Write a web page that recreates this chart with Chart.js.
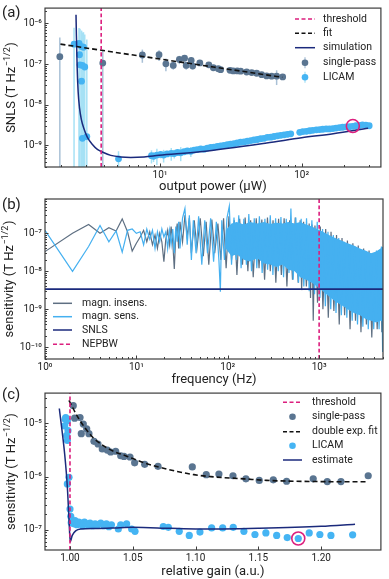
<!DOCTYPE html>
<html>
<head>
<meta charset="utf-8">
<script src="https://cdn.jsdelivr.net/npm/chart.js@4.4.1/dist/chart.umd.min.js"></script>
<style>
  html, body { margin: 0; padding: 0; background: #fff; }
  #wrap { position: relative; width: 389px; height: 579px; overflow: hidden; }
  canvas { position: absolute; left: 0; }
</style>
</head>
<body>
<div id="wrap">
  <canvas id="chartA" width="389" height="196" style="top:0"></canvas>
  <canvas id="chartB" width="389" height="200" style="top:190px"></canvas>
  <canvas id="chartC" width="389" height="194" style="top:385px"></canvas>
</div>
<script>
const FONT = "Roboto, 'Liberation Sans', sans-serif";
const INK = '#222';
const FRAME = '#3c3c3c';
const C_SINGLE = '#5a7591';
const C_SINGLE_ERR = '#a9c0d6';
const C_LICAM = '#45b4f3';
const C_LICAM_ERR = '#a6e1f5';
const C_NAVY = '#1b2a7c';
const C_MAGENTA = '#dc1f7e';
const C_INSENS = '#5e6f82';
const C_SENS = '#45b0f0';

// ---- panel (a): SNLS vs output power ----
const aXRange = [1.54, 363];
const aYRange = [2.95e-10, 2.39e-6];
const aXDecades = [1, 10, 100];
const aYDecades = [1e-10, 1e-9, 1e-8, 1e-7, 1e-6];
const aThreshold = 3.84;
const aFitX = [1.98, 73];
const aFitY = [3.1e-7, 4.75e-8];
const aSimX = [2.55, 2.567, 2.60, 2.64, 2.70, 2.78, 2.91, 3.07, 3.33, 3.61, 3.91, 4.49, 5.28, 6.21, 7.71, 9.84, 19.1, 56.6, 100, 167, 295];
const aSimY = [1.63e-6, 4.9e-7, 7.7e-8, 2.1e-8, 8.4e-9, 4.4e-9, 2.5e-9, 1.58e-9, 1.06e-9, 8.0e-10, 6.9e-10, 5.7e-10, 5.2e-10, 5.06e-10, 5.2e-10, 5.7e-10, 7.0e-10, 1.15e-9, 1.55e-9, 1.95e-9, 2.65e-9];
const aSingleX = [1.96, 3.94, 7.5, 9.84, 11.0, 12.4, 13.7, 14.9, 15.3, 16.6, 17.0, 19.1, 22.1, 23.8, 25.8, 26.8, 31.2, 32.9, 35.1, 37.1, 40.9, 44.4, 48.1, 52.2, 56.6, 61.4, 66.6, 73.5];
const aSingleY = [1.53e-7, 1.06e-7, 1.68e-7, 1.70e-7, 1.02e-7, 9.3e-8, 1.30e-7, 1.40e-7, 9.3e-8, 1.23e-7, 8.96e-8, 1.07e-7, 9.6e-8, 8.15e-8, 7.7e-8, 7.3e-8, 7.05e-8, 6.8e-8, 6.8e-8, 6.7e-8, 6.4e-8, 6.2e-8, 5.97e-8, 5.5e-8, 5.14e-8, 5.06e-8, 5.06e-8, 4.86e-8];
const aSingleErr = [3.0e-7, 1.1e-7, 6e-8, 5e-8, 3.5e-8, 2e-8, 3e-8, 2.5e-8, 2e-8, 2.5e-8, 1.5e-8, 1.5e-8, 1.2e-8, 1e-8, 1e-8, 8e-9, 6e-9, 6e-9, 5e-9, 5e-9, 6e-9, 5e-9, 5e-9, 6e-9, 5e-9, 8e-9, 2e-8, 5e-9];
const aLicamX = [2.47, 2.68, 2.79, 2.88, 2.70, 2.72, 2.83, 2.94, 2.79, 2.83, 3.04, 5.09,
  8.7, 9.0, 9.5, 10.1, 10.6, 11.2, 12.0, 12.6, 13.3, 14.0, 14.8, 15.6, 16.5, 17.4, 18.3, 19.4, 20.5, 21.6, 22.8, 24.0,
  25.4, 26.8, 28.3, 29.9, 31.5, 33.3, 35.1, 37.1, 39.2, 41.4, 43.7, 46.1, 48.7, 51.4, 54.3, 57.3, 60.5, 63.9, 67.5, 71.2,
  75.2, 79.4, 83.8,
  97, 102, 108, 114, 120, 127, 134, 141, 149, 157, 166, 175, 185, 195, 206, 217, 229, 242, 255, 269, 284, 300];
const aLicamY = [3.1e-7, 3.25e-7, 2.7e-7, 2.6e-7, 1.7e-7, 9.6e-8, 9.3e-8, 8.5e-8, 3.8e-8, 1.5e-9, 1.65e-9, 4.7e-10,
  5.6e-10, 5.4e-10, 5.8e-10, 6.0e-10, 5.8e-10, 6.2e-10, 6.4e-10, 6.3e-10, 6.7e-10, 6.6e-10, 7.0e-10, 7.3e-10, 7.2e-10, 7.7e-10, 7.9e-10, 8.2e-10, 8.1e-10, 8.6e-10, 9.0e-10, 9.1e-10,
  9.5e-10, 9.8e-10, 1.0e-9, 1.04e-9, 1.07e-9, 1.1e-9, 1.15e-9, 1.2e-9, 1.22e-9, 1.27e-9, 1.32e-9, 1.36e-9, 1.4e-9, 1.46e-9, 1.5e-9, 1.58e-9, 1.6e-9, 1.66e-9, 1.72e-9, 1.77e-9,
  1.82e-9, 1.88e-9, 1.93e-9,
  2.1e-9, 2.2e-9, 2.22e-9, 2.3e-9, 2.35e-9, 2.42e-9, 2.45e-9, 2.5e-9, 2.55e-9, 2.55e-9, 2.6e-9, 2.68e-9, 2.75e-9, 2.8e-9, 2.87e-9, 2.9e-9, 2.95e-9, 3.05e-9, 3.1e-9, 3.2e-9, 3.15e-9, 3.05e-9];
const aLicamErr = [4.7e-7, 4.5e-7, 4.0e-7, 3.5e-7, 5.5e-7, 6.5e-7, 5.0e-7, 4.5e-7, 6.0e-7, 5.0e-7, 4.0e-7, 2.5e-10,
  2.0e-10, 1.5e-10, 2.5e-10, 1.2e-10, 2.0e-10, 1.0e-10, 2.2e-10, 1.5e-10, 1.0e-10, 2.5e-10, 1.2e-10, 1.0e-10, 2.0e-10, 0.8e-10, 1.0e-10, 0, 0, 0, 0, 0,
  0, 0, 0, 0, 0, 0, 0, 0, 0, 0, 0, 0, 0, 0, 0, 0, 0, 0, 0, 0,
  0, 0, 0,
  0, 0, 0, 0, 0, 0, 0, 0, 0, 0, 0, 0, 0, 0, 0, 0, 0, 0, 0, 0, 0, 0];
const aMarked = [230, 3.0e-9];

// ---- panel (b): spectra ----
const bXRange = [1, 5000];
const bYRange = [4.92e-11, 8.0e-7];
const bXDecades = [1, 10, 100, 1000];
const bYDecades = [1e-11, 1e-10, 1e-9, 1e-8, 1e-7];
const bNepbw = 1000;
const bSnls = 3.4e-9;
const bInsF = [1, 2, 3, 4, 5, 6, 7, 8, 9, 10, 11, 12, 13, 14, 15, 16, 17, 18, 19, 20, 21, 22, 23, 24, 25, 26, 27, 28, 29, 30,
  32, 34, 36, 38, 40, 43, 46, 50, 54, 58, 62, 67, 72, 78, 84, 90, 96, 103, 110, 118, 126, 135, 145, 155, 166, 178, 190,
  205, 220, 236, 253, 272, 292, 313, 336, 360, 386, 414, 444, 476, 511, 548, 590, 620, 643, 676, 725, 778, 805, 834, 862,
  900, 960, 1030, 1100, 1180, 1260, 1350, 1450, 1550, 1660, 1780, 1900, 2040, 2180, 2340, 2500, 2680, 2870, 3070, 3290,
  3520, 3770, 4030, 4320, 4620, 4850, 5000];
const bInsV = [3.3e-8, 1.0e-7, 1.7e-7, 1.0e-7, 1.4e-7, 1.15e-7, 2.4e-7, 1.1e-7, 3.4e-8, 5.5e-8, 8e-8, 1.2e-7, 6e-8, 1.1e-7, 5e-8, 9e-8, 4e-8, 1.0e-7, 6e-8, 1.8e-8, 7e-8, 1.2e-7, 5e-8, 1.5e-7, 6e-8, 1.15e-8, 9e-8, 1.8e-7, 4e-8, 2.0e-7,
  6e-8, 3e-7, 8e-8, 2.5e-7, 3e-8, 2.2e-7, 4e-8, 2.5e-7, 2.5e-8, 2.0e-7, 1.5e-8, 2.3e-7, 3e-8, 1.8e-7, 2e-8, 2.5e-7, 1.2e-8, 2.8e-7, 2e-8, 2.2e-7, 8e-9, 2.4e-7, 1.5e-8, 2.6e-7, 1.0e-8, 2.2e-7, 7e-9,
  2.5e-7, 1.2e-8, 2.3e-7, 6e-9, 2.6e-7, 1e-8, 2.2e-7, 5e-9, 2.4e-7, 8e-9, 2.5e-7, 4e-9, 2.2e-7, 6e-9, 2.6e-7, 5e-9, 2.2e-7, 3.2e-9, 2.0e-7, 4e-9, 1.8e-7, 2e-9, 1.7e-7, 5e-10,
  1.6e-7, 1.5e-9, 1.5e-7, 1e-9, 1.3e-7, 6e-10, 1.1e-7, 9e-10, 9e-8, 4e-10, 7.5e-8, 7e-10, 6.5e-8, 3e-10, 5.5e-8, 5e-10, 4.8e-8, 2.5e-10, 4e-8, 4e-10,
  3.5e-8, 1.8e-10, 3e-8, 3e-10, 3.5e-8, 2.5e-10, 3.5e-8];
const bSenF = [1, 2, 3, 4, 5, 6, 7, 8, 9, 10, 11, 12, 13, 14, 15, 16, 17, 18, 19, 20, 21, 22, 23, 24, 25, 26, 27, 28, 29, 30,
  32, 34, 36, 38, 40, 42, 45, 48, 52, 56, 60, 65, 70, 75, 80, 83, 86, 92, 98, 104, 110, 117, 124, 132, 140, 150, 160, 170,
  182, 195, 208, 222, 238, 255, 273, 292, 312, 334, 357, 382, 408, 437, 468, 491, 520, 556, 595, 636, 680, 728, 779, 833,
  891, 953, 1020, 1090, 1170, 1250, 1340, 1430, 1530, 1640, 1750, 1880, 2010, 2150, 2300, 2460, 2630, 2820, 3010, 3230,
  3450, 3700, 3960, 4240, 4530, 4800, 4950, 5000];
const bSenV = [1.2e-7, 1.0e-8, 4.5e-8, 1.6e-7, 6.0e-8, 1.15e-7, 3.2e-8, 1.2e-7, 1.3e-7, 1.0e-7, 1.1e-7, 5e-8, 1.3e-7, 7e-8, 1.2e-7, 4e-8, 1.1e-7, 6e-8, 1.3e-7, 8e-8, 1.1e-7, 4e-8, 1.2e-7, 5e-8, 1.3e-7, 3e-8, 1.5e-7, 6e-8, 2e-7, 4e-8,
  2.5e-7, 4.5e-7, 5e-8, 3e-7, 2e-8, 2.2e-7, 3e-8, 2.8e-7, 1.5e-8, 2.2e-7, 3e-8, 2.5e-7, 1.8e-8, 2.0e-7, 2e-8, 2.9e-9, 2.2e-7, 2e-8, 2.5e-7, 5.2e-7, 1.5e-8, 2.6e-7, 2e-8, 3e-7, 1.2e-8, 2.4e-7, 1.5e-8, 3.2e-7,
  1e-8, 2.5e-7, 1.2e-8, 2.8e-7, 9e-9, 2.4e-7, 1.1e-8, 3e-7, 8e-9, 2.5e-7, 1e-8, 2.7e-7, 7e-9, 2.4e-7, 9e-9, 4.5e-7, 6e-9, 2.6e-7, 5e-9, 2.4e-7, 4e-9, 2.5e-7, 3e-9, 2.2e-7,
  2.5e-9, 2.0e-7, 2e-9, 1.3e-7, 1.2e-9, 1.1e-7, 1e-9, 9e-8, 8e-10, 7.5e-8, 7e-10, 6e-8, 6e-10, 5e-8, 5e-10, 4.5e-8, 4e-10, 3.8e-8, 3.5e-10, 3.3e-8,
  3e-10, 3e-8, 3e-10, 3.5e-8, 3e-10, 4.5e-8, 7.5e-11, 4.2e-8];
const bBandF = [95, 110, 125, 150, 175, 210, 250, 290, 340, 400, 460, 540, 620, 720, 830, 950, 1100, 1280, 1500, 1750, 2050, 2400, 2800, 3250, 3700, 4200, 4700, 5000];
const bBandHi = [1.2e-7, 1.8e-7, 2.0e-7, 1.7e-7, 2.0e-7, 1.8e-7, 2.0e-7, 1.75e-7, 1.9e-7, 1.8e-7, 2.0e-7, 1.8e-7, 2.0e-7, 1.7e-7, 1.5e-7, 1.3e-7, 1.1e-7, 9e-8, 7.5e-8, 6.5e-8, 5.5e-8, 4.8e-8, 4e-8, 3.5e-8, 3.0e-8, 3.3e-8, 4e-8, 4.5e-8];
const bBandLo = [4e-8, 2.5e-8, 2.8e-8, 2.0e-8, 1.8e-8, 2.2e-8, 1.6e-8, 1.5e-8, 1.3e-8, 1.5e-8, 1.1e-8, 1.0e-8, 7e-9, 6e-9, 5e-9, 4e-9, 3e-9, 2.2e-9, 1.6e-9, 1.3e-9, 1e-9, 8e-10, 7e-10, 5.5e-10, 5e-10, 4.5e-10, 5e-10, 4.7e-10];

// ---- panel (c): sensitivity vs relative gain ----
const cXRange = [0.9801, 1.2476];
const cYRange = [4.2e-8, 3.7e-5];
const cXTicks = [1.00, 1.05, 1.10, 1.15, 1.20];
const cYDecades = [1e-8, 1e-7, 1e-6, 1e-5];
const cThreshold = 1.0;
const cSingleX = [1.0026, 1.0037, 1.0080, 1.0090, 1.0106, 1.0133, 1.0151, 1.0191, 1.0223, 1.0257, 1.0297, 1.0324, 1.0364, 1.0404, 1.0430, 1.0478, 1.0515, 1.0595, 1.0701, 1.0974, 1.1085, 1.1186, 1.1298, 1.1401, 1.1507, 1.1619, 1.1725, 1.1937, 1.2049, 1.2158, 1.2375];
const cSingleY = [2.15e-5, 1.25e-5, 1.29e-5, 6.4e-6, 9.7e-6, 7.9e-6, 6.4e-6, 4.6e-6, 4.1e-6, 3.3e-6, 3.15e-6, 2.9e-6, 3.0e-6, 2.47e-6, 2.4e-6, 2.34e-6, 1.82e-6, 1.7e-6, 1.56e-6, 1.52e-6, 1.09e-6, 1.12e-6, 1.04e-6, 9.1e-7, 8.5e-7, 8.7e-7, 8.2e-7, 9.1e-7, 8.1e-7, 8.1e-7, 1.04e-6];
const cFitX = [0.9992, 1.0058, 1.0125, 1.0191, 1.0324, 1.0456, 1.0589, 1.0722, 1.0854, 1.0987, 1.112, 1.1385, 1.1566, 1.1964, 1.2375];
const cFitY = [2.7e-5, 1.37e-5, 7.9e-6, 5.2e-6, 3.18e-6, 2.4e-6, 1.82e-6, 1.48e-6, 1.25e-6, 1.09e-6, 1.0e-6, 9.1e-7, 8.5e-7, 8.1e-7, 8.0e-7];
const cEstX = [0.9915, 0.9958, 0.9979, 0.9992, 1.0002, 1.0018, 1.0045, 1.0085, 1.02, 1.04, 1.05, 1.08, 1.10, 1.15, 1.20, 1.227];
const cEstY = [1.9e-5, 2.6e-6, 6.4e-7, 1.6e-7, 6.0e-8, 7.9e-8, 9.6e-8, 1.04e-7, 1.06e-7, 1.1e-7, 1.12e-7, 1.07e-7, 1.04e-7, 1.08e-7, 1.17e-7, 1.28e-7];
const cLicamX = [0.9966, 0.9979, 0.9958, 0.9984, 0.9974, 0.9979, 0.9962, 0.9979, 0.9992, 1.0000, 1.0006, 1.0010,
  1.0015, 1.0030, 1.0040, 1.0055, 1.0070, 1.0085, 1.0100, 1.0115, 1.0130, 1.0145, 1.0160, 1.0180, 1.0200, 1.0220, 1.0245, 1.0270, 1.0290, 1.0310, 1.0330,
  1.0385, 1.0404, 1.0451, 1.0491, 1.0518, 1.0743, 1.0783, 1.0870, 1.0950, 1.1035, 1.1128, 1.1216, 1.1300, 1.1385, 1.1473, 1.1560, 1.1646, 1.1730, 1.1818, 1.1905, 1.1990, 1.2078, 1.2251];
const cLicamY = [1.29e-5, 1.11e-5, 9e-6, 7.3e-6, 5.95e-6, 4.8e-6, 1.2e-5, 7.3e-7, 9.7e-7, 2.47e-7, 1.8e-7, 1.37e-7,
  1.45e-7, 1.3e-7, 1.5e-7, 1.25e-7, 1.4e-7, 1.35e-7, 1.2e-7, 1.4e-7, 1.3e-7, 1.25e-7, 1.35e-7, 1.2e-7, 1.3e-7, 1.25e-7, 1.35e-7, 1.2e-7, 1.3e-7, 1.15e-7, 1.25e-7,
  1.04e-7, 1.25e-7, 1.3e-7, 1.04e-7, 9.4e-8, 1.16e-7, 1.12e-7, 9.4e-8, 7.9e-8, 9.1e-8, 1.09e-7, 1.09e-7, 1.12e-7, 9.4e-8, 8.2e-8, 8.8e-8, 7.9e-8, 7.2e-8, 6.9e-8, 8.8e-8, 8.2e-8, 7.9e-8, 8.1e-8];
const cMarked = [1.1818, 6.9e-8];

// ---- helpers ----
const SUP = { '-': '\u207B', '0': '\u2070', '1': '\u00B9', '2': '\u00B2', '3': '\u00B3', '4': '\u2074', '5': '\u2075', '6': '\u2076', '7': '\u2077', '8': '\u2078', '9': '\u2079' };

function powLabel(v) {
  const e = Math.round(Math.log10(v));
  return '10' + String(e).split('').map(c => SUP[c]).join('');
}

function pts(xs, ys) {
  return xs.map((x, i) => ({ x: x, y: ys[i] }));
}

function withMinor(decades, min, max) {
  const out = [];
  decades.forEach(d => {
    for (let k = 1; k < 10; k++) {
      const v = d * k;
      if (v >= min && v <= max) out.push({ value: v, major: k === 1 });
    }
  });
  return out;
}

function logAxis(range, decades, pos) {
  return {
    type: 'logarithmic', position: pos, min: range[0], max: range[1],
    afterBuildTicks: s => { s.ticks = withMinor(decades, range[0], range[1]); },
    ticks: {
      autoSkip: false, maxRotation: 0, padding: pos === 'left' ? 3 : 2, color: INK,
      font: { family: FONT, size: 10 },
      callback: (v, i, t) => t[i].major ? powLabel(v) : ''
    },
    grid: { display: false, drawTicks: false },
    border: { display: false }
  };
}

function lineSet(data, color, width, order, dash) {
  return { data, showLine: true, borderColor: color, borderWidth: width, borderDash: dash || [],
    pointRadius: 0, pointHoverRadius: 0, fill: false, order, cubicInterpolationMode: 'monotone' };
}

function rawLine(data, color, width, order) {
  // straight segments, for the noisy spectra
  return Object.assign(lineSet(data, color, width, order), { cubicInterpolationMode: 'default' });
}

function dotSet(data, color, radius, order) {
  return { data, showLine: false, pointRadius: radius, pointHoverRadius: radius,
    pointBackgroundColor: color, pointBorderWidth: 0, order };
}

function ringSet(point, order) {
  return { data: [{ x: point[0], y: point[1] }], showLine: false, pointRadius: 6.5, pointHoverRadius: 6.5,
    pointBackgroundColor: 'rgba(0,0,0,0)', pointBorderColor: C_MAGENTA, pointBorderWidth: 1.6, order };
}

function seg(ctx, x0, y0, x1, y1) {
  ctx.beginPath(); ctx.moveTo(x0, y0); ctx.lineTo(x1, y1); ctx.stroke();
}

function drawYTitle(ctx, cx, cy, base, sup, tail) {
  ctx.save();
  ctx.translate(cx, cy);
  ctx.rotate(-Math.PI / 2);
  const big = `13px ${FONT}`, small = `9px ${FONT}`;
  ctx.font = big;
  const w1 = ctx.measureText(base).width, w3 = ctx.measureText(tail).width;
  ctx.font = small;
  const w2 = ctx.measureText(sup).width;
  const x0 = -(w1 + w2 + w3 + 1) / 2;
  ctx.textBaseline = 'middle';
  ctx.fillStyle = INK;
  ctx.font = big; ctx.fillText(base, x0, 0);
  ctx.font = small; ctx.fillText(sup, x0 + w1 + 0.5, -4.5);
  ctx.font = big; ctx.fillText(tail, x0 + w1 + w2 + 1, 0);
  ctx.restore();
}

function drawLegend(ctx, lg) {
  ctx.save();
  ctx.textBaseline = 'middle';
  lg.items.forEach((it, i) => {
    const yy = lg.rows[i];
    if (it.kind === 'dot') {
      const cx = (lg.x0 + lg.x1) / 2;
      if (it.bar) { ctx.strokeStyle = it.bar; ctx.lineWidth = 1.3; seg(ctx, cx, yy - 5.5, cx, yy + 5.5); }
      ctx.fillStyle = it.color;
      ctx.beginPath(); ctx.arc(cx, yy, 3.3, 0, Math.PI * 2); ctx.fill();
    } else {
      ctx.strokeStyle = it.color;
      ctx.lineWidth = it.width || 1.5;
      ctx.setLineDash(it.kind === 'dash' ? [4, 2.5] : []);
      seg(ctx, lg.x0, yy, lg.x1, yy);
      ctx.setLineDash([]);
    }
    ctx.fillStyle = INK;
    ctx.font = `10.5px ${FONT}`;
    ctx.fillText(it.text, lg.tx, yy);
  });
  ctx.restore();
}

function decoPlugin(p) {
  return {
    id: 'deco',
    beforeDatasetsDraw(chart) {
      const { ctx, chartArea: a, scales: { x, y } } = chart;
      ctx.save();
      ctx.beginPath(); ctx.rect(a.left, a.top, a.right - a.left, a.bottom - a.top); ctx.clip();
      (p.errorBars || []).forEach(eb => {
        ctx.strokeStyle = eb.color;
        ctx.lineWidth = 1.5;
        eb.xs.forEach((xv, i) => {
          const s = eb.err[i];
          if (!s) return;
          const yv = eb.ys[i];
          const px = x.getPixelForValue(xv);
          const top = y.getPixelForValue(yv + s);
          const bot = yv - s > 0 ? y.getPixelForValue(yv - s) : a.bottom;
          seg(ctx, px, top, px, bot);
        });
      });
      ctx.restore();
    },
    afterDatasetsDraw(chart) {
      const { ctx, chartArea: a, scales: { x, y } } = chart;
      ctx.save();
      ctx.strokeStyle = FRAME;
      ctx.lineWidth = 1;
      x.ticks.forEach(t => {
        const px = Math.round(x.getPixelForValue(t.value)) + 0.5;
        seg(ctx, px, a.bottom, px, a.bottom - (t.major ? 3.5 : 2));
      });
      y.ticks.forEach(t => {
        const py = Math.round(y.getPixelForValue(t.value)) + 0.5;
        seg(ctx, a.left, py, a.left + (t.major ? 3.5 : 2), py);
      });
      ctx.lineWidth = 1.2;
      ctx.strokeRect(a.left, a.top, a.right - a.left, a.bottom - a.top);
      ctx.fillStyle = INK;
      ctx.textAlign = 'center';
      ctx.textBaseline = 'middle';
      ctx.font = `13px ${FONT}`;
      ctx.fillText(p.xTitle, (a.left + a.right) / 2, p.xTitleY);
      ctx.textAlign = 'left';
      ctx.font = `15px ${FONT}`;
      ctx.fillText(p.label, 2, p.labelY);
      ctx.restore();
      drawYTitle(ctx, p.yTitleX, (a.top + a.bottom) / 2, p.yTitle, '\u22121/2', ')');
      drawLegend(ctx, p.legend);
    }
  };
}

function makePanel(id, p) {
  const canvas = document.getElementById(id);
  const H = canvas.height;
  p.x.afterFit = s => { s.height = H - p.bottom; s.paddingLeft = 0; s.paddingRight = 0; };
  p.y.afterFit = s => { s.width = 45; s.paddingTop = 0; s.paddingBottom = 0; };
  return new Chart(canvas, {
    type: 'line',
    data: { datasets: p.datasets },
    options: {
      responsive: false, animation: false, events: [],
      layout: { padding: { left: 0, right: p.padRight, top: p.padTop, bottom: 0 } },
      scales: { x: p.x, y: p.y },
      plugins: { legend: { display: false }, tooltip: { enabled: false } }
    },
    plugins: [decoPlugin(p)]
  });
}

// ---- panel (a) ----
makePanel('chartA', {
  padTop: 5, padRight: 8, bottom: 167,
  x: logAxis(aXRange, aXDecades, 'bottom'),
  y: logAxis(aYRange, aYDecades, 'left'),
  datasets: [
    ringSet(aMarked, 0),
    lineSet([{ x: aThreshold, y: aYRange[0] }, { x: aThreshold, y: aYRange[1] }], C_MAGENTA, 1.6, 1, [4, 2.5]),
    lineSet(pts(aFitX, aFitY), '#111', 1.6, 2, [5, 3]),
    lineSet(pts(aSimX, aSimY), C_NAVY, 1.5, 3),
    dotSet(pts(aSingleX, aSingleY), C_SINGLE, 3.4, 5),
    dotSet(pts(aLicamX, aLicamY), C_LICAM, 3.4, 6)
  ],
  errorBars: [
    { xs: aLicamX, ys: aLicamY, err: aLicamErr, color: C_LICAM_ERR },
    { xs: aSingleX, ys: aSingleY, err: aSingleErr, color: C_SINGLE_ERR }
  ],
  xTitle: 'output power (\u03BCW)', xTitleY: 187,
  yTitle: 'SNLS (T Hz', yTitleX: 12,
  label: '(a)', labelY: 13.5,
  legend: {
    x0: 295, x1: 315, tx: 323, rows: [19, 33.3, 47.7, 62.7, 77.3],
    items: [
      { kind: 'dash', color: C_MAGENTA, text: 'threshold' },
      { kind: 'dash', color: '#111', text: 'fit' },
      { kind: 'line', color: C_NAVY, text: 'simulation' },
      { kind: 'dot', color: C_SINGLE, bar: C_SINGLE_ERR, text: 'single-pass' },
      { kind: 'dot', color: C_LICAM, bar: C_LICAM_ERR, text: 'LICAM' }
    ]
  }
});

// ---- panel (b) ----
const bandLower = rawLine(pts(bBandF, bBandLo), C_SENS, 0, 4);
bandLower.fill = '-1';
bandLower.backgroundColor = C_SENS;

makePanel('chartB', {
  padTop: 9, padRight: 6, bottom: 169,
  x: logAxis(bXRange, bXDecades, 'bottom'),
  y: logAxis(bYRange, bYDecades, 'left'),
  datasets: [
    lineSet([{ x: bNepbw, y: bYRange[0] }, { x: bNepbw, y: bYRange[1] }], C_MAGENTA, 1.6, 0, [4, 2.5]),
    lineSet([{ x: bXRange[0], y: bSnls }, { x: bXRange[1], y: bSnls }], C_NAVY, 1.6, 1),
    rawLine(pts(bSenF, bSenV), C_SENS, 1.2, 3),
    rawLine(pts(bBandF, bBandHi), C_SENS, 0, 4),
    bandLower,
    rawLine(pts(bInsF, bInsV), C_INSENS, 1.2, 6)
  ],
  xTitle: 'frequency (Hz)', xTitleY: 190,
  yTitle: 'sensitivity (T Hz', yTitleX: 10,
  label: '(b)', labelY: 15,
  legend: {
    x0: 53, x1: 72, tx: 82, rows: [113.3, 126.7, 140, 154.3],
    items: [
      { kind: 'line', color: C_INSENS, text: 'magn. insens.' },
      { kind: 'line', color: C_SENS, text: 'magn. sens.' },
      { kind: 'line', color: C_NAVY, text: 'SNLS' },
      { kind: 'dash', color: C_MAGENTA, text: 'NEPBW' }
    ]
  }
});

// ---- panel (c) ----
const cX = {
  type: 'linear', position: 'bottom', min: cXRange[0], max: cXRange[1],
  afterBuildTicks: s => { s.ticks = cXTicks.map(v => ({ value: v, major: true })); },
  ticks: { autoSkip: false, maxRotation: 0, padding: 2, color: INK, font: { family: FONT, size: 10 },
    callback: v => v.toFixed(2) },
  grid: { display: false, drawTicks: false },
  border: { display: false }
};

makePanel('chartC', {
  padTop: 3, padRight: 8, bottom: 165,
  x: cX,
  y: logAxis(cYRange, cYDecades, 'left'),
  datasets: [
    ringSet(cMarked, 0),
    lineSet([{ x: cThreshold, y: cYRange[0] }, { x: cThreshold, y: cYRange[1] }], C_MAGENTA, 1.6, 1, [4, 2.5]),
    lineSet(pts(cFitX, cFitY), '#111', 1.6, 2, [5, 3]),
    lineSet(pts(cEstX, cEstY), C_NAVY, 1.5, 3),
    dotSet(pts(cSingleX, cSingleY), C_SINGLE, 3.6, 5),
    dotSet(pts(cLicamX, cLicamY), C_LICAM, 3.6, 6)
  ],
  xTitle: 'relative gain (a.u.)', xTitleY: 186.7,
  yTitle: 'sensitivity (T Hz', yTitleX: 12,
  label: '(c)', labelY: 10,
  legend: {
    x0: 283, x1: 302, tx: 312, rows: [17.3, 31.7, 46.7, 60.7, 75],
    items: [
      { kind: 'dash', color: C_MAGENTA, text: 'threshold' },
      { kind: 'dot', color: C_SINGLE, text: 'single-pass' },
      { kind: 'dash', color: '#111', text: 'double exp. fit' },
      { kind: 'dot', color: C_LICAM, text: 'LICAM' },
      { kind: 'line', color: C_NAVY, text: 'estimate' }
    ]
  }
});
</script>
</body>
</html>
